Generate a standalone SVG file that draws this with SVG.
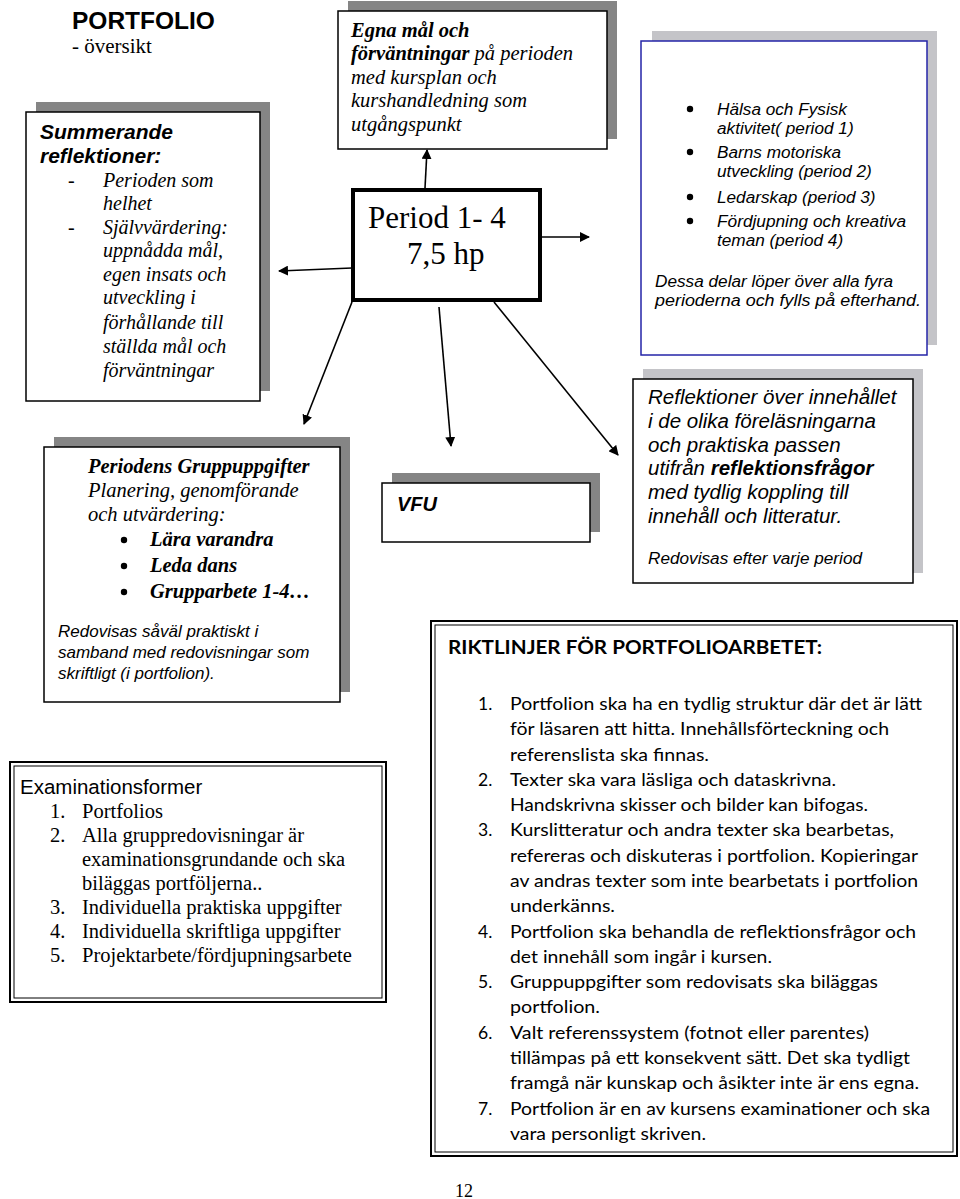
<svg xmlns="http://www.w3.org/2000/svg" width="960" height="1199" viewBox="0 0 960 1199">
<defs>
<marker id="ah" viewBox="0 0 10 10" refX="9" refY="5" markerWidth="10" markerHeight="10" markerUnits="userSpaceOnUse" orient="auto">
<path d="M0,0 L10,5 L0,10 z" fill="#000"/>
</marker>
</defs>
<style>
.frame{fill:#fff;stroke:#000;stroke-width:1.5}
.shd{fill:#858585}
.shl{fill:#c4c4c8}
.ser{font-family:"Liberation Serif","Times New Roman",serif;fill:#000}
.san{font-family:"Liberation Sans",Arial,sans-serif;fill:#000}
.cal{font-family:Lato,"Open Sans",sans-serif;fill:#000}
.it{font-style:italic}
.b{font-weight:bold}
.conn line{stroke:#000;stroke-width:1.6;marker-end:url(#ah)}
</style>
<rect width="960" height="1199" fill="#fff"/>

<g id="title">
<text class="san b" x="72" y="29" font-size="24.5">PORTFOLIO</text>
<text class="ser" x="72" y="53" font-size="21">- översikt</text>
</g>

<g id="summerande">
<rect class="shd" x="36" y="102" width="234" height="289"/>
<rect class="frame" x="26" y="112" width="234" height="289"/>
<text class="san b it" x="40" y="139" font-size="21">Summerande</text>
<text class="san b it" x="40" y="163" font-size="21">reflektioner:</text>
<g class="ser it" font-size="20">
<text x="68" y="187" font-style="normal">-</text>
<text x="103" y="187">Perioden som</text>
<text x="103" y="210">helhet</text>
<text x="68" y="234" font-style="normal">-</text>
<text x="103" y="234">Självvärdering:</text>
<text x="103" y="257">uppnådda mål,</text>
<text x="103" y="281">egen insats och</text>
<text x="103" y="304">utveckling i</text>
<text x="103" y="329">förhållande till</text>
<text x="103" y="353">ställda mål och</text>
<text x="103" y="377">förväntningar</text>
</g>
</g>

<g id="egna">
<rect class="shd" x="348" y="1" width="269" height="138"/>
<rect class="frame" x="338" y="11" width="269" height="138"/>
<g class="ser it" font-size="20.5">
<text x="351" y="37" font-weight="bold">Egna mål och</text>
<text x="351" y="60"><tspan font-weight="bold">förväntningar</tspan> på perioden</text>
<text x="351" y="84">med kursplan och</text>
<text x="351" y="107">kurshandledning som</text>
<text x="351" y="131">utgångspunkt</text>
</g>
</g>

<g id="period">
<rect x="353" y="190" width="187" height="110" fill="#fff" stroke="#000" stroke-width="4"/>
<text class="ser" x="368" y="228" font-size="31">Period 1- 4</text>
<text class="ser" x="407" y="264" font-size="31">7,5 hp</text>
</g>

<g id="halsa">
<rect class="shl" x="652" y="31" width="285" height="314"/>
<rect x="641" y="41" width="286" height="314" fill="#fff" stroke="#2424a8" stroke-width="1.5"/>
<g fill="#000">
<circle cx="690" cy="109" r="3.2"/>
<circle cx="690" cy="152" r="3.2"/>
<circle cx="690" cy="197" r="3.2"/>
<circle cx="690" cy="221" r="3.2"/>
</g>
<g class="san it" font-size="17.2">
<text x="717" y="115">Hälsa och Fysisk</text>
<text x="717" y="134">aktivitet( period 1)</text>
<text x="717" y="158">Barns motoriska</text>
<text x="717" y="177">utveckling (period 2)</text>
<text x="717" y="203">Ledarskap (period 3)</text>
<text x="717" y="227" textLength="189" lengthAdjust="spacingAndGlyphs">Fördjupning och kreativa</text>
<text x="717" y="246">teman (period 4)</text>
<text x="655" y="287" textLength="238" lengthAdjust="spacingAndGlyphs">Dessa delar löper över alla fyra</text>
<text x="655" y="306" textLength="266" lengthAdjust="spacingAndGlyphs">perioderna och fylls på efterhand.</text>
</g>
</g>

<g id="reflektioner">
<rect class="shl" x="643" y="369" width="280" height="204"/>
<rect class="frame" x="633" y="379" width="280" height="204"/>
<g class="san it" font-size="20.5">
<text x="648" y="404">Reflektioner över innehållet</text>
<text x="648" y="428">i de olika föreläsningarna</text>
<text x="648" y="452">och praktiska passen</text>
<text x="648" y="475">utifrån <tspan font-weight="bold">reflektionsfrågor</tspan></text>
<text x="648" y="499">med tydlig koppling till</text>
<text x="648" y="523">innehåll och litteratur.</text>
<text x="648" y="564" font-size="17.2">Redovisas efter varje period</text>
</g>
</g>

<g id="grupp">
<rect class="shd" x="54" y="437" width="296" height="255"/>
<rect class="frame" x="44" y="447" width="296" height="255"/>
<text class="ser b it" x="88" y="473" font-size="20.5">Periodens Gruppuppgifter</text>
<text class="ser it" x="88" y="497" font-size="20.5">Planering, genomförande</text>
<text class="ser it" x="88" y="521" font-size="20.5">och utvärdering:</text>
<g fill="#000">
<circle cx="124" cy="540" r="3.2"/>
<circle cx="124" cy="566" r="3.2"/>
<circle cx="124" cy="592" r="3.2"/>
</g>
<g class="ser b it" font-size="20.5">
<text x="150" y="546">Lära varandra</text>
<text x="150" y="572">Leda dans</text>
<text x="150" y="598">Grupparbete 1-4…</text>
</g>
<g class="san it" font-size="17">
<text x="58" y="637">Redovisas såväl praktiskt i</text>
<text x="58" y="658">samband med redovisningar som</text>
<text x="58" y="679">skriftligt (i portfolion).</text>
</g>
</g>

<g id="vfu">
<rect class="shd" x="392" y="473" width="208" height="59"/>
<rect class="frame" x="382" y="483" width="208" height="59"/>
<text class="san b it" x="397" y="511" font-size="20">VFU</text>
</g>

<g id="exam">
<rect x="10" y="762" width="376" height="240" fill="#fff" stroke="#000" stroke-width="2"/>
<rect x="14" y="766" width="368" height="232" fill="none" stroke="#000" stroke-width="1"/>
<text class="san" x="20" y="794" font-size="20.5">Examinationsformer</text>
<g class="ser" font-size="20.5">
<text x="50" y="818">1.</text><text x="82" y="818">Portfolios</text>
<text x="50" y="842">2.</text><text x="82" y="842">Alla gruppredovisningar är</text>
<text x="82" y="866">examinationsgrundande och ska</text>
<text x="82" y="890">biläggas portföljerna..</text>
<text x="50" y="914">3.</text><text x="82" y="914">Individuella praktiska uppgifter</text>
<text x="50" y="938">4.</text><text x="82" y="938">Individuella skriftliga uppgifter</text>
<text x="50" y="962">5.</text><text x="82" y="962">Projektarbete/fördjupningsarbete</text>
</g>
</g>

<g id="riktlinjer">
<rect x="431" y="621" width="526" height="535" fill="#fff" stroke="#000" stroke-width="2"/>
<rect x="435" y="625" width="518" height="527" fill="none" stroke="#000" stroke-width="1"/>
<text class="cal b" x="448" y="654" font-size="18.5" textLength="374" lengthAdjust="spacingAndGlyphs">RIKTLINJER FÖR PORTFOLIOARBETET:</text>
<g class="cal" font-size="17.5">
<text x="478" y="710">1.</text><text x="510" y="710" textLength="412" lengthAdjust="spacingAndGlyphs">Portfolion ska ha en tydlig struktur där det är lätt</text>
<text x="510" y="735" textLength="379" lengthAdjust="spacingAndGlyphs">för läsaren att hitta. Innehållsförteckning och</text>
<text x="510" y="761" textLength="199" lengthAdjust="spacingAndGlyphs">referenslista ska finnas.</text>
<text x="478" y="786">2.</text><text x="510" y="786" textLength="326" lengthAdjust="spacingAndGlyphs">Texter ska vara läsliga och dataskrivna.</text>
<text x="510" y="811" textLength="358" lengthAdjust="spacingAndGlyphs">Handskrivna skisser och bilder kan bifogas.</text>
<text x="478" y="836">3.</text><text x="510" y="836" textLength="384" lengthAdjust="spacingAndGlyphs">Kurslitteratur och andra texter ska bearbetas,</text>
<text x="510" y="862" textLength="408" lengthAdjust="spacingAndGlyphs">refereras och diskuteras i portfolion. Kopieringar</text>
<text x="510" y="887" textLength="408" lengthAdjust="spacingAndGlyphs">av andras texter som inte bearbetats i portfolion</text>
<text x="510" y="912" textLength="105" lengthAdjust="spacingAndGlyphs">underkänns.</text>
<text x="478" y="938">4.</text><text x="510" y="938" textLength="406" lengthAdjust="spacingAndGlyphs">Portfolion ska behandla de reflektionsfrågor och</text>
<text x="510" y="963" textLength="262" lengthAdjust="spacingAndGlyphs">det innehåll som ingår i kursen.</text>
<text x="478" y="988">5.</text><text x="510" y="988" textLength="368" lengthAdjust="spacingAndGlyphs">Gruppuppgifter som redovisats ska biläggas</text>
<text x="510" y="1013" textLength="90" lengthAdjust="spacingAndGlyphs">portfolion.</text>
<text x="478" y="1039">6.</text><text x="510" y="1039" textLength="359" lengthAdjust="spacingAndGlyphs">Valt referenssystem (fotnot eller parentes)</text>
<text x="510" y="1064" textLength="400" lengthAdjust="spacingAndGlyphs">tillämpas på ett konsekvent sätt. Det ska tydligt</text>
<text x="510" y="1089" textLength="409" lengthAdjust="spacingAndGlyphs">framgå när kunskap och åsikter inte är ens egna.</text>
<text x="478" y="1115">7.</text><text x="510" y="1115" textLength="420" lengthAdjust="spacingAndGlyphs">Portfolion är en av kursens examinationer och ska</text>
<text x="510" y="1140" textLength="196" lengthAdjust="spacingAndGlyphs">vara personligt skriven.</text>
</g>
</g>

<g id="page">
<text class="ser" x="455" y="1197" font-size="18">12</text>
</g>

<g id="connectors" class="conn">
<line x1="425" y1="188" x2="427" y2="150"/>
<line x1="352" y1="268" x2="279" y2="271"/>
<line x1="540" y1="237" x2="589" y2="237"/>
<line x1="352" y1="302" x2="304" y2="424"/>
<line x1="439" y1="307" x2="451" y2="446"/>
<line x1="494" y1="302" x2="618" y2="455"/>
</g>
</svg>
